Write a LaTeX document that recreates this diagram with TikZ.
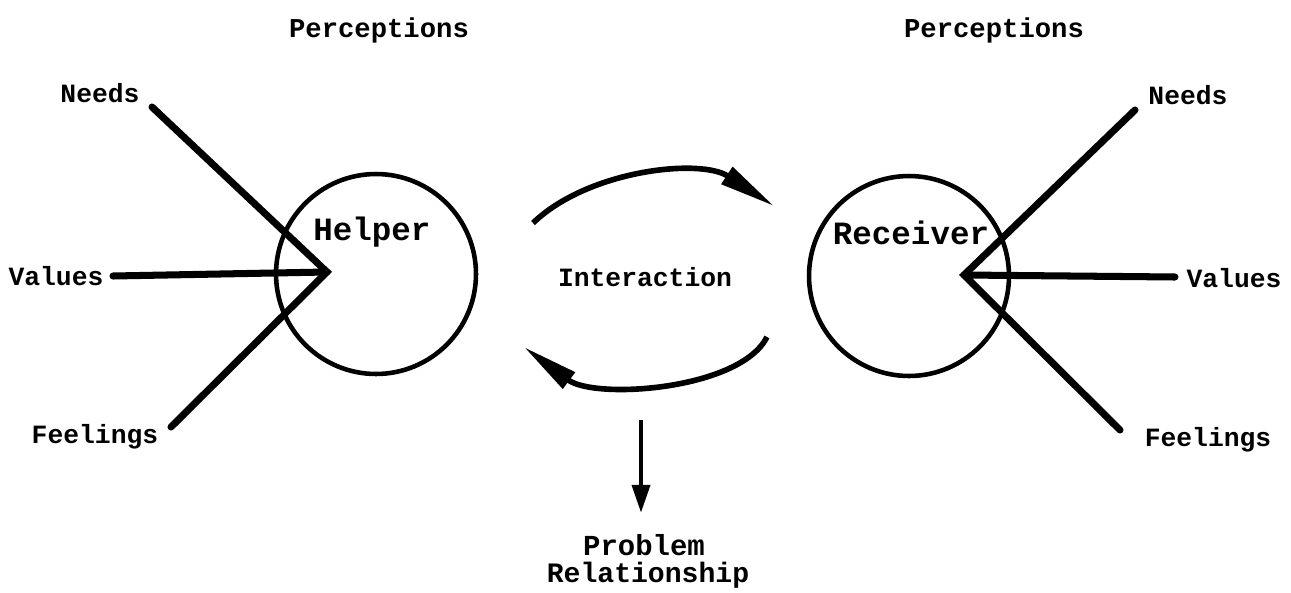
\documentclass[tikz,border=0pt]{standalone}
\usepackage{fontspec}
\setmonofont{Liberation Mono}
\usetikzlibrary{arrows.meta, positioning, calc}

\begin{document}
\begin{tikzpicture}[x=0.02cm, y=-0.02cm,
    lbl/.style={font=\ttfamily\bfseries\fontsize{15}{17}\selectfont, inner sep=0pt},
    bigl/.style={font=\ttfamily\bfseries\fontsize{18.5}{21}\selectfont, inner sep=0pt},
    percl/.style={font=\ttfamily\bfseries\fontsize{15.5}{17}\selectfont, inner sep=0pt},
    person/.style={circle, draw, line width=2.6pt, minimum size=4cm, inner sep=0pt},
    spoke/.style={line width=4pt, line join=miter, line cap=round},
    flow/.style={line width=3.2pt, -{Triangle[length=32pt, width=11pt]}}]
    \useasboundingbox (0,0) rectangle (1291,592);
    % left side
    \node[person] (helper) at (376,274) {};
    \node[bigl] (helperlbl) at (372,232) {Helper};
    \node[percl] (percL) at (379,30) {Perceptions};
    \node[lbl] (needsL) at (100,93) {Needs};
    \node[lbl] (valuesL) at (56,276) {Values};
    \node[lbl] (feelL) at (95,437) {Feelings};
    \coordinate (hv) at (327,272);
    \coordinate (hn) at (152,107);
    \coordinate (hval) at (113,276);
    \coordinate (hf) at (171,427);
    \draw[spoke] (hn) -- (hv) -- (hf);
    \draw[spoke] (hval) -- (hv);
    % right side
    \node[person] (receiver) at (909,276) {};
    \node[bigl] (receiverlbl) at (911,233) {Receiver};
    \node[percl] (percR) at (994,30) {Perceptions};
    \node[lbl] (needsR) at (1188,95) {Needs};
    \node[lbl] (valuesR) at (1234,278) {Values};
    \node[lbl] (feelR) at (1208,440) {Feelings};
    \coordinate (rv) at (964,275);
    \coordinate (rn) at (1135,110);
    \coordinate (rval) at (1175,277);
    \coordinate (rf) at (1120,430);
    \draw[spoke] (rn) -- (rv) -- (rf);
    \draw[spoke] (rval) -- (rv);
    % middle
    \node[lbl] (inter) at (645,277) {Interaction};
    \coordinate (t1) at (533,223); \coordinate (t2) at (774,206);
    \coordinate (b1) at (767,337); \coordinate (b2) at (524,347);
    \draw[flow] (t1) .. controls (588,170) and (700,158) .. (t2);
    \draw[flow] (b1) .. controls (740,390) and (595,400) .. (b2);
    \node[font=\ttfamily\bfseries\fontsize{16.5}{18}\selectfont, inner sep=0pt] (prob) at (644,545) {Problem};
    \node[font=\ttfamily\bfseries\fontsize{16}{18}\selectfont, inner sep=0pt] (rel) at (648,575) {Relationship};
    \coordinate (d1) at (641,420);
    \draw[line width=2.8pt, -{Triangle[length=16pt, width=10pt]}] (d1) -- (d1 |- 0,513);
\end{tikzpicture}
\end{document}
